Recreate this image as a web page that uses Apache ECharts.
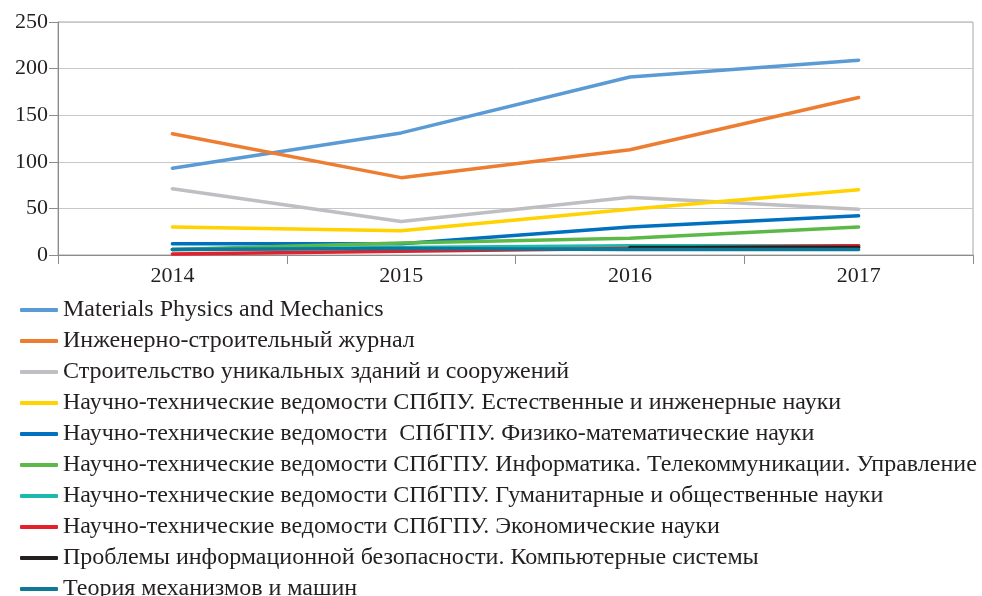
<!DOCTYPE html>
<html>
<head>
<meta charset="utf-8">
<script src="https://cdn.jsdelivr.net/npm/echarts@6/dist/echarts.min.js"></script>
<style>html,body{margin:0;padding:0;background:#fff}#c{width:982px;height:596px}</style>
</head>
<body>
<div id="c"></div>
<script>
const categories = ['2014', '2015', '2016', '2017'];
const yTicks = [0, 50, 100, 150, 200, 250];

const seriesNames = [
  'Materials Physics and Mechanics',
  'Инженерно-строительный журнал',
  'Строительство уникальных зданий и сооружений',
  'Научно-технические ведомости СПбПУ. Естественные и инженерные науки',
  'Научно-технические ведомости  СПбГПУ. Физико-математические науки',
  'Научно-технические ведомости СПбГПУ. Информатика. Телекоммуникации. Управление',
  'Научно-технические ведомости СПбГПУ. Гуманитарные и общественные науки',
  'Научно-технические ведомости СПбГПУ. Экономические науки',
  'Проблемы информационной безопасности. Компьютерные системы',
  'Теория механизмов и машин'
];

const mpm      = [93, 131, 191, 209];
const isj      = [130, 83, 113, 169];
const suzs     = [71, 36, 62, 49];
const ntvNat   = [30, 26, 49, 70];
const ntvPhys  = [12, 12, 30, 42];
const ntvInf   = [6, 13, 18, 30];
const ntvHum   = [6, 8, 10, 10];
const ntvEcon  = [1, 4, 7, 10];
const pibks    = [null, null, 8, 8];
const tmm      = [6, 7, 6, 6];

const seriesValues = [mpm, isj, suzs, ntvNat, ntvPhys, ntvInf, ntvHum, ntvEcon, pibks, tmm];
const colors = ['#5B9BD5', '#ED7D31', '#BFBFC3', '#FFD200', '#0070C0', '#5DB947', '#1ABAB0', '#E3202B', '#231F20', '#0F7896'];

const chart = echarts.init(document.getElementById('c'), null, {renderer: 'canvas'});
const FONT = 'Liberation Serif';

chart.setOption({
  animation: false,
  color: colors,
  grid: {
    left: 58, right: 9, top: 22, bottom: 341,
    show: true, borderColor: '#A6A6A6', borderWidth: 1, backgroundColor: 'transparent'
  },
  xAxis: {
    type: 'category',
    data: categories,
    boundaryGap: true,
    axisLine: {lineStyle: {color: '#8C8C8C', width: 1}},
    axisTick: {show: true, length: 9, lineStyle: {color: '#8C8C8C'}},
    axisLabel: {color: '#231F20', fontFamily: FONT, fontSize: 22, margin: 10}
  },
  yAxis: {
    type: 'value',
    min: yTicks[0], max: yTicks[yTicks.length - 1], interval: 50,
    axisLine: {show: true, lineStyle: {color: '#8C8C8C', width: 1}},
    axisTick: {show: true, length: 9, lineStyle: {color: '#8C8C8C'}},
    splitLine: {lineStyle: {color: '#C8C8C8', width: 1}},
    axisLabel: {color: '#231F20', fontFamily: FONT, fontSize: 22, margin: 10}
  },
  legend: {
    orient: 'vertical',
    left: 20, top: 298, height: 340,
    itemWidth: 38, itemHeight: 4, itemGap: 7,
    icon: 'roundRect',
    padding: 0,
    textStyle: {color: '#231F20', fontFamily: FONT, fontSize: 24, lineHeight: 24},
    data: seriesNames
  },
  series: seriesNames.map((n, i) => ({
    name: n,
    type: 'line',
    data: seriesValues[i],
    symbol: 'none',
    smooth: false,
    connectNulls: false,
    lineStyle: {width: 3.5, color: colors[i], cap: 'round', join: 'round'},
    itemStyle: {color: colors[i]}
  }))
});
</script>
</body>
</html>
